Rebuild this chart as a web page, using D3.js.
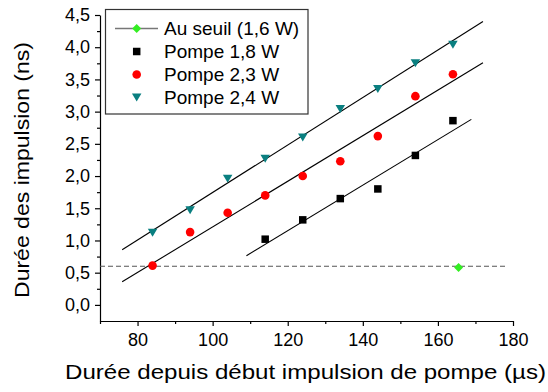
<!DOCTYPE html>
<html>
<head>
<meta charset="utf-8">
<script src="https://cdn.jsdelivr.net/npm/d3@7"></script>
<style>
  html, body { margin: 0; padding: 0; background: #fff; }
  svg { display: block; font-family: Arial, "Liberation Sans", sans-serif; }
</style>
</head>
<body>
<svg id="chart" width="548" height="392"></svg>
<script>
// ---- data ----
const xTicks = [80, 100, 120, 140, 160, 180];
const xMinorTicks = [70, 90, 110, 130, 150, 170];
const yTicks = [0, 0.5, 1.0, 1.5, 2.0, 2.5, 3.0, 3.5, 4.0, 4.5];
const yMinorTicks = [0.25, 0.75, 1.25, 1.75, 2.25, 2.75, 3.25, 3.75, 4.25];

const seriesNames = ["Au seuil (1,6 W)", "Pompe 1,8 W", "Pompe 2,3 W", "Pompe 2,4 W"];

const seuilX = [165.5];
const seuilY = [0.58];
const seuilLevel = [0.6];
const seuilLineX = [70, 178];

const p18X = [114, 124, 134, 144, 154, 164];
const p18Y = [1.02, 1.32, 1.65, 1.80, 2.32, 2.86];

const p23X = [84, 94, 104, 114, 124, 134, 144, 154, 164];
const p23Y = [0.61, 1.13, 1.43, 1.70, 2.00, 2.23, 2.62, 3.24, 3.58];

const p24X = [84, 94, 104, 114, 124, 134, 144, 154, 164];
const p24Y = [1.12, 1.47, 1.96, 2.27, 2.60, 3.04, 3.35, 3.75, 4.04];

// linear fits (end points)
const fit18X = [109, 168.9];
const fit18Y = [0.763, 2.88];
const fit23X = [75.9, 172];
const fit23Y = [0.358, 3.76];
const fit24X = [75.9, 172];
const fit24Y = [0.857, 4.40];

// ---- drawing ----
const svg = d3.select("#chart");
const x = d3.scaleLinear().domain([70, 180]).range([100, 513]);
const y = d3.scaleLinear().domain([-0.25, 4.5]).range([321, 15]);

const fmtY = d => d3.format(".1f")(d).replace(".", ",");

// axes
const gx = svg.append("g").attr("transform", "translate(0,321)");
gx.call(d3.axisBottom(x).tickValues(xTicks).tickSize(5).tickSizeOuter(0).tickFormat(d3.format("d")).tickPadding(7.5));
gx.selectAll(".tick text").attr("font-size", 18).attr("font-family", "Arial, 'Liberation Sans', sans-serif").attr("fill", "#000");
const gxm = svg.append("g").attr("transform", "translate(0,321)");
gxm.call(d3.axisBottom(x).tickValues(xMinorTicks).tickSize(3).tickSizeOuter(0).tickFormat(""));
gxm.select(".domain").remove();

const gy = svg.append("g").attr("transform", "translate(100,0)");
gy.call(d3.axisLeft(y).tickValues(yTicks).tickSize(5).tickSizeOuter(0).tickFormat(fmtY).tickPadding(5));
gy.selectAll(".tick text").attr("font-size", 18).attr("font-family", "Arial, 'Liberation Sans', sans-serif").attr("fill", "#000");
const gym = svg.append("g").attr("transform", "translate(100,0)");
gym.call(d3.axisLeft(y).tickValues(yMinorTicks).tickSize(3).tickSizeOuter(0).tickFormat(""));
gym.select(".domain").remove();

svg.selectAll(".domain, .tick line").attr("stroke", "#000").attr("stroke-width", 1.2);

// threshold dashed line
svg.append("line")
  .attr("x1", x(seuilLineX[0])).attr("x2", x(seuilLineX[1]))
  .attr("y1", y(seuilLevel[0])).attr("y2", y(seuilLevel[0]))
  .attr("stroke", "#555").attr("stroke-width", 1.2).attr("stroke-dasharray", "5,3");

// fit lines
const fits = [[fit24X, fit24Y], [fit23X, fit23Y], [fit18X, fit18Y]];
const lineGen = d3.line().x(d => x(d[0])).y(d => y(d[1]));
fits.forEach(([fx, fy]) => {
  svg.append("path")
    .attr("d", lineGen(d3.zip(fx, fy)))
    .attr("fill", "none").attr("stroke", "#000").attr("stroke-width", 1.1);
});

// marker shapes
const triDown = (w, h) => `M${-w/2},${-h/2}L${w/2},${-h/2}L0,${h/2}Z`;
const square = s => `M${-s/2},${-s/2}h${s}v${s}h${-s}Z`;
const diamond = (w, h) => `M0,${-h/2}L${w/2},0L0,${h/2}L${-w/2},0Z`;

const teal = "#0a7f80", red = "#ff0000", green = "#33ee22";

svg.append("g").selectAll("path").data(d3.zip(p24X, p24Y)).join("path")
  .attr("transform", d => `translate(${x(d[0])},${y(d[1])})`)
  .attr("d", triDown(9.5, 8)).attr("fill", teal);

svg.append("g").selectAll("circle").data(d3.zip(p23X, p23Y)).join("circle")
  .attr("cx", d => x(d[0])).attr("cy", d => y(d[1])).attr("r", 4.3).attr("fill", red);

svg.append("g").selectAll("path").data(d3.zip(p18X, p18Y)).join("path")
  .attr("transform", d => `translate(${x(d[0])},${y(d[1])})`)
  .attr("d", square(7.5)).attr("fill", "#000");

svg.append("g").selectAll("path").data(d3.zip(seuilX, seuilY)).join("path")
  .attr("transform", d => `translate(${x(d[0])},${y(d[1])})`)
  .attr("d", diamond(9, 9)).attr("fill", green);

// legend
const lg = svg.append("g");
lg.append("rect").attr("x", 105.5).attr("y", 9.5).attr("width", 202.5).attr("height", 104.5)
  .attr("fill", "#fff").attr("stroke", "#333").attr("stroke-width", 1.2);
const rowY = [28.5, 51.5, 74.5, 97.5];
const symX = 136.7;
lg.append("line").attr("x1", 115).attr("x2", 158).attr("y1", rowY[0]).attr("y2", rowY[0])
  .attr("stroke", "#777").attr("stroke-width", 1.5);
lg.append("path").attr("transform", `translate(${symX},${rowY[0]})`).attr("d", diamond(9, 9)).attr("fill", green);
lg.append("path").attr("transform", `translate(${symX},${rowY[1]})`).attr("d", square(7.5)).attr("fill", "#000");
lg.append("circle").attr("cx", symX).attr("cy", rowY[2]).attr("r", 4.3).attr("fill", red);
lg.append("path").attr("transform", `translate(${symX},${rowY[3]})`).attr("d", triDown(9.5, 8)).attr("fill", teal);
lg.selectAll("text.lt").data(seriesNames).join("text")
  .attr("class", "lt")
  .attr("x", 164).attr("y", (d, i) => rowY[i] + 6.8)
  .attr("font-size", 19).attr("fill", "#000")
  .text(d => d);

// axis titles
svg.append("text")
  .attr("x", 65).attr("y", 379)
  .attr("font-size", 20).attr("fill", "#000")
  .attr("textLength", 481).attr("lengthAdjust", "spacingAndGlyphs")
  .text("Durée depuis début impulsion de pompe (µs)");

svg.append("text")
  .attr("transform", "translate(28.5,298) rotate(-90)")
  .attr("x", 0).attr("y", 0)
  .attr("font-size", 20.5).attr("fill", "#000")
  .attr("textLength", 256).attr("lengthAdjust", "spacingAndGlyphs")
  .text("Durée des impulsion (ns)");
</script>
</body>
</html>
